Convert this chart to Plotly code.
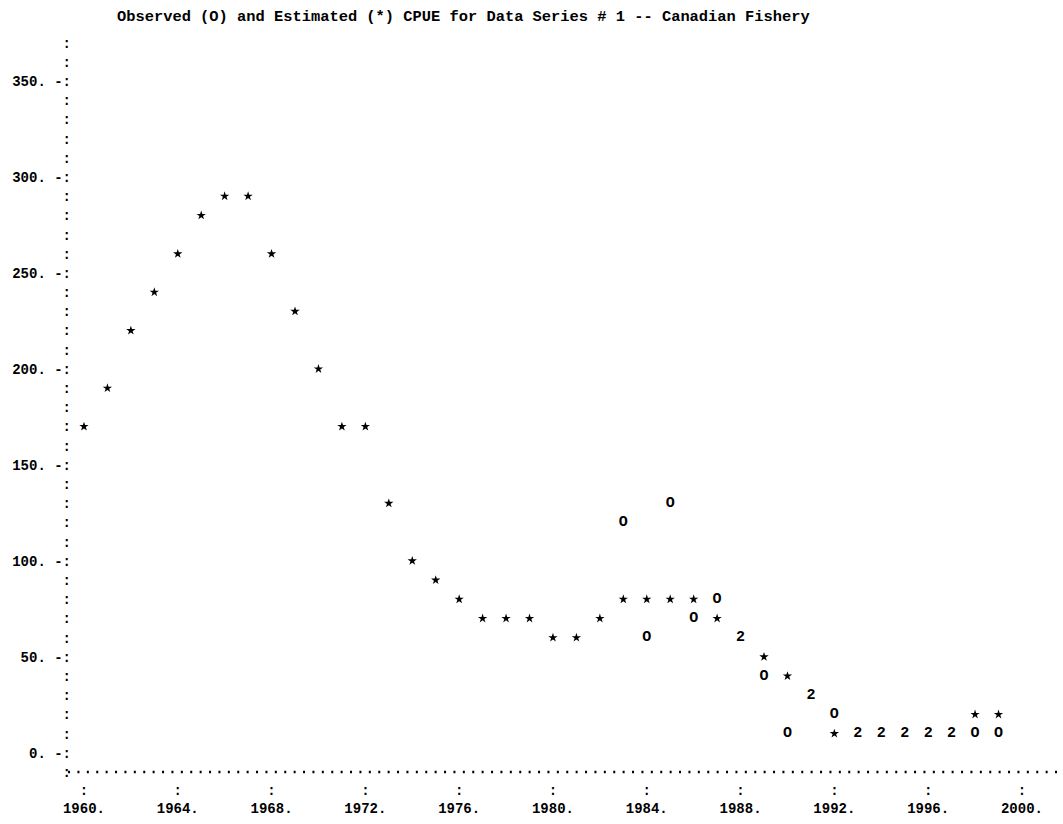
import plotly.graph_objects as go

# ---- data ----
years = list(range(1960, 2000))
estimated = [170, 190, 220, 240, 260, 280, 290, 290, 260, 230,
             200, 170, 170, 130, 100, 90, 80, 70, 70, 70,
             60, 60, 70, 80, 80, 80, 80, 70, 60, 50,
             40, 30, 10, 10, 10, 10, 10, 10, 20, 20]
obs_years = list(range(1983, 2000))
observed = [120, 60, 130, 70, 80, 60, 40, 10, 30, 20,
            10, 10, 10, 10, 10, 10, 10]

y_ticks = list(range(-10, 380, 10))
y_labels = [f"{v}. -:" if (v >= 0 and v % 50 == 0) else ":" for v in y_ticks]
x_ticks = [1960, 1964, 1968, 1972, 1976, 1980, 1984, 1988, 1992, 1996, 2000]
x_labels = [f":<br>{v}." for v in x_ticks]

title_text = "Observed (O) and Estimated (*) CPUE for Data Series # 1 -- Canadian Fishery"

# ---- split coincident points (printed as "2") ----
est_map = dict(zip(years, estimated))
obs_map = dict(zip(obs_years, observed))
both_x = [y for y in obs_years if obs_map[y] == est_map[y]]
both_y = [obs_map[y] for y in both_x]
est_x = [y for y in years if not (y in obs_map and obs_map[y] == est_map[y])]
est_y = [est_map[y] for y in est_x]
obs_x = [y for y in obs_years if obs_map[y] != est_map[y]]
obs_y = [obs_map[y] for y in obs_x]

MONO = "Liberation Mono, Courier New, monospace"

fig = go.Figure()
fig.add_trace(go.Scatter(x=est_x, y=est_y, mode="markers",
                         marker=dict(symbol="star", size=7, color="black",
                                     line=dict(width=0)),
                         name="Estimated", showlegend=False))
fig.add_trace(go.Scatter(x=obs_x, y=obs_y, mode="text", text=["O"] * len(obs_x),
                         textposition="middle center",
                         textfont=dict(family=MONO, size=15, color="black", weight="bold"),
                         name="Observed", showlegend=False))
fig.add_trace(go.Scatter(x=both_x, y=both_y, mode="text", text=["2"] * len(both_x),
                         textposition="middle center",
                         textfont=dict(family=MONO, size=15, color="black", weight="bold"),
                         name="Both", showlegend=False))

# dotted x-axis line (line-printer style)
fig.add_shape(type="line", xref="paper", yref="paper", x0=-0.004, x1=1.0, y0=0, y1=0,
              line=dict(color="black", width=2.4, dash="2px,7.4px"))

fig.update_layout(
    width=1063, height=824, autosize=False,
    margin=dict(l=72, r=0, t=35, b=52),
    paper_bgcolor="white", plot_bgcolor="white",
    font=dict(family=MONO, size=14, color="black"),
    title=dict(text=title_text, x=117 / 1063, xanchor="left", xref="container",
               y=1 - 16 / 824, yanchor="middle", yref="container",
               font=dict(family=MONO, size=15.4, color="black", weight="bold")),
    xaxis=dict(range=[1959.49, 2001.75], tickvals=x_ticks, ticktext=x_labels,
               showgrid=False, zeroline=False, showline=False, ticks="",
               ticklabelstandoff=8,
               tickfont=dict(family=MONO, size=14, color="black", weight="bold")),
    yaxis=dict(range=[-10, 374], tickvals=y_ticks, ticktext=y_labels,
               showgrid=False, zeroline=False, showline=False, ticks="",
               tickfont=dict(family=MONO, size=14, color="black", weight="bold")),
)

fig.write_html("out.html", config={"displayModeBar": False},
               post_script="document.body.style.margin='0';")
